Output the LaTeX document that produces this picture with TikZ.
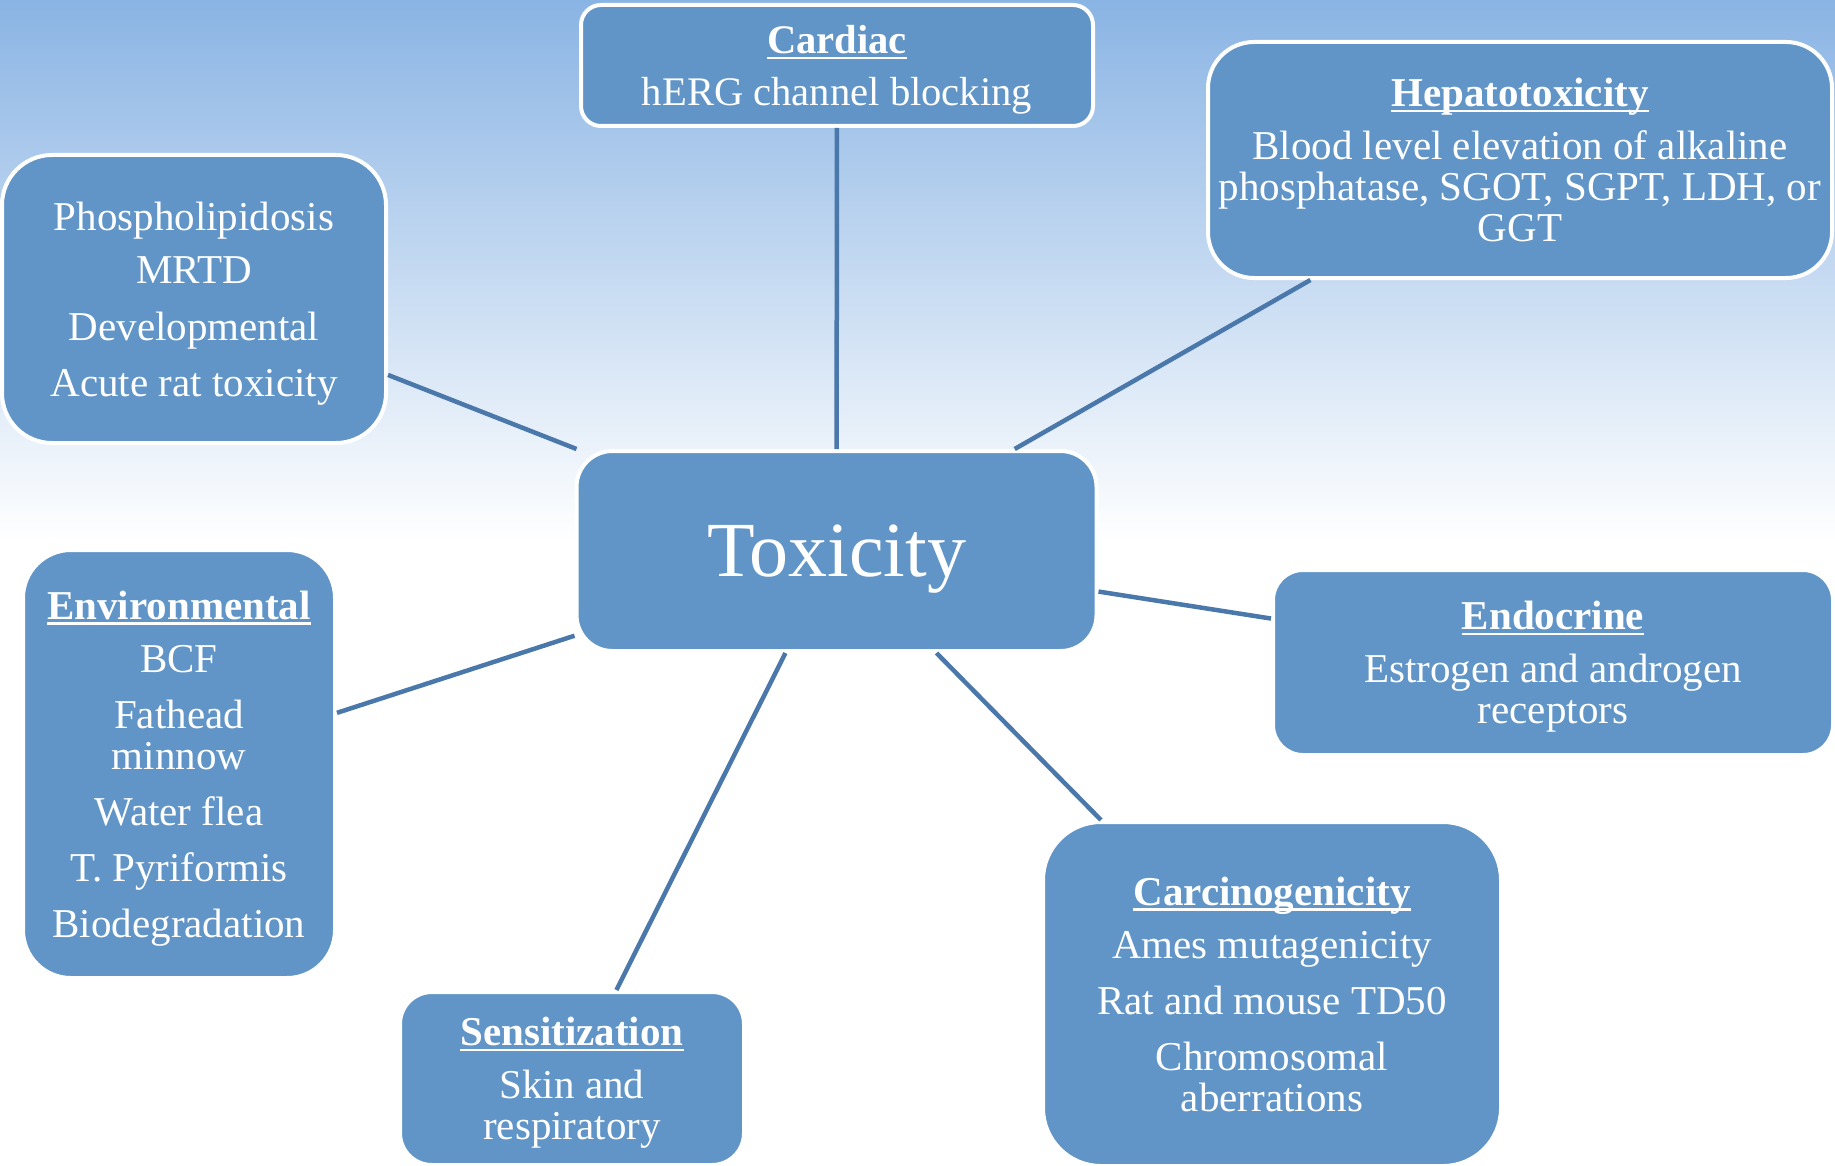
\documentclass[tikz,border=0pt]{standalone}
\usepackage{fontspec}
\setmainfont{Liberation Serif}
\usepackage{xcolor}
\usepackage{tikz}
\usetikzlibrary{positioning}

\definecolor{skytop}{RGB}{138,180,228}
\definecolor{boxblue}{RGB}{97,149,199}
\definecolor{linkblue}{RGB}{74,120,170}

% bold heading with a flat underline
\newcommand{\hd}[1]{\setbox0\hbox{\bfseries #1}\rlap{\rule[-0.14em]{\wd0}{0.065em}}\box0}

\begin{document}
\begin{tikzpicture}[x=0.5pt, y=-0.5pt,
  topic/.style={draw=white, line width=2pt, fill=boxblue, text=white, align=center,
    inner sep=0pt, text depth=0pt, font=\fontsize{20.5}{20.5}\selectfont},
  link/.style={draw=linkblue, line width=2.25pt}]
  \useasboundingbox (0,0) rectangle (1835,1166);
  \fill[white] (0,0) rectangle (1835,1166);
  \shade[top color=skytop, bottom color=white] (0,0) rectangle (1835,540);

  \node (tox) [topic, minimum width=260pt, minimum height=100pt, rounded corners=18pt,
    font=\fontsize{39}{44}\selectfont] at (836.5,551) {Toxicity};

  \node (card) [topic, minimum width=256pt, minimum height=60.5pt, rounded corners=10pt,
    font=\fontsize{20.3}{26}\selectfont] at (837,65.5)
    {\hd{Cardiac}\\hERG channel blocking};
  \node (hep) [topic, minimum width=312pt, minimum height=118pt, rounded corners=23pt] at (1520,160)
    {\hd{Hepatotoxicity}\\[6pt]Blood level elevation of alkaline\\phosphatase, SGOT, SGPT, LDH, or\\GGT};
  \node (phos) [topic, minimum width=192pt, minimum height=144pt, rounded corners=25pt] at (194,299)
    {Phospholipidosis\\[6pt]MRTD\\[8pt]Developmental\\[7.5pt]Acute rat toxicity};
  \node (env) [topic, minimum width=156pt, minimum height=214pt, rounded corners=24pt] at (179,764)
    {\hd{Environmental}\\[6pt]BCF\\[7.5pt]Fathead\\minnow\\[7.5pt]Water flea\\[7.5pt]T. Pyriformis\\[7.5pt]Biodegradation};
  \node (endo) [topic, minimum width=280pt, minimum height=92.5pt, rounded corners=15pt] at (1553,662.5)
    {\hd{Endocrine}\\[6pt]Estrogen and androgen\\receptors};
  \node (carc) [topic, minimum width=229pt, minimum height=172pt, rounded corners=29pt] at (1272,994)
    {\hd{Carcinogenicity}\\[6pt]Ames mutagenicity\\[7.5pt]Rat and mouse TD50\\[7.5pt]Chromosomal\\aberrations};
  \node (sens) [topic, minimum width=172pt, minimum height=86.5pt, rounded corners=16pt] at (572,1078.5)
    {\hd{Sensitization}\\[6pt]Skin and\\respiratory};

  \draw[link] (card) -- (tox);
  \draw[link] (hep) -- (tox);
  \draw[link] (phos) -- (tox);
  \draw[link] (env) -- (tox);
  \draw[link] (endo) -- (tox);
  \draw[link] (carc) -- (tox);
  \draw[link] (sens) -- (tox);
\end{tikzpicture}
\end{document}
